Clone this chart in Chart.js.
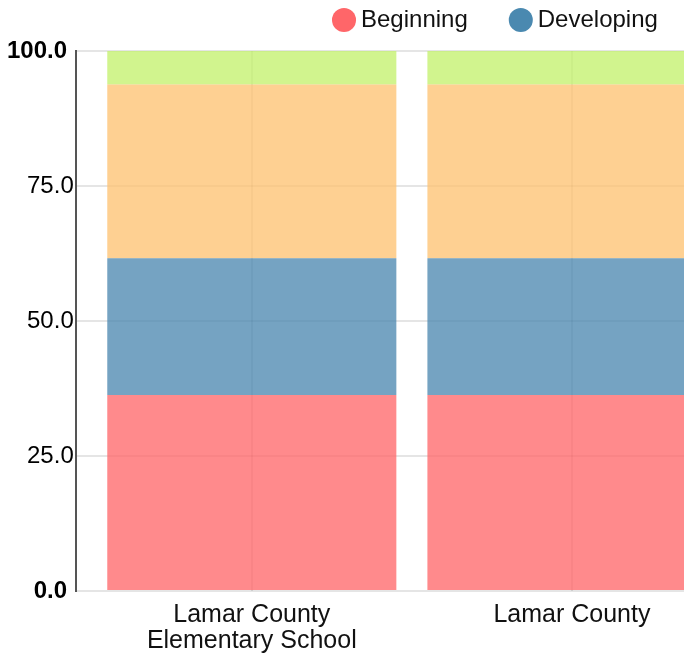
<!DOCTYPE html>
<html>
<head>
<meta charset="utf-8">
<script src="https://cdn.jsdelivr.net/npm/chart.js@4/dist/chart.umd.min.js"></script>
<style>
  html, body { margin: 0; padding: 0; background: #ffffff; overflow: hidden; }
  #wrap { width: 684px; height: 658px; }
</style>
</head>
<body>
<div id="wrap"><canvas id="c" width="684" height="658"></canvas></div>
<script>
// ---- data ----
const categories = [["Lamar County", "Elementary School"], ["Lamar County"]];
const seriesNames = ["Beginning", "Developing", "Proficient", "Distinguished"];
const beginning = [36.3, 36.3];
const developing = [25.3, 25.3];
const proficient = [32.2, 32.2];
const distinguished = [6.2, 6.2];
const yTicks = [0, 25, 50, 75, 100];

// ---- styles ----
const barColors = ["rgba(255,99,102,0.75)", "rgba(71,132,174,0.75)", "rgba(254,192,109,0.75)", "rgba(194,240,104,0.75)"];
const legendColors = ["#ff6669", "#4a89b0", "#fec06d", "#c2f068"];
const legendSuffix = ["      ", "  \u2009", "", ""];
const FONT = "'Liberation Sans', Arial, sans-serif";

const seriesValues = [beginning, developing, proficient, distinguished];
const datasets = seriesNames.map((name, i) => ({
  label: name,
  data: seriesValues[i].map((v, j) => ({ x: j, y: v })),
  backgroundColor: barColors[i],
  borderWidth: 0,
  categoryPercentage: 0.903,
  barPercentage: 1.0
}));

const legendGap = {
  id: 'legendGap',
  beforeLayout(chart) {
    const l = chart.legend;
    if (l && !l._gapPatched) {
      const fit = l.fit;
      l.fit = function () { fit.call(this); this.height += 9; };
      l._gapPatched = true;
    }
  }
};

new Chart(document.getElementById('c'), {
  type: 'bar',
  data: { datasets },
  plugins: [legendGap],
  options: {
    responsive: false,
    animation: false,
    devicePixelRatio: 1,
    layout: { padding: { left: 5, right: 0, top: 0, bottom: -7 } },
    plugins: {
      tooltip: { enabled: false },
      legend: {
        display: true,
        position: 'top',
        align: 'end',
        labels: {
          usePointStyle: true,
          pointStyle: 'circle',
          boxWidth: 10,
          boxHeight: 17,
          padding: 8,
          color: '#111',
          font: { size: 24, family: FONT },
          filter: (item) => item.datasetIndex < 2,
          generateLabels: (chart) => {
            const items = Chart.defaults.plugins.legend.labels.generateLabels(chart);
            return items.map((it) => Object.assign(it, {
              text: it.text + legendSuffix[it.datasetIndex],
              fillStyle: legendColors[it.datasetIndex],
              strokeStyle: legendColors[it.datasetIndex],
              lineWidth: 0
            }));
          }
        }
      }
    },
    scales: {
      x: {
        type: 'linear',
        stacked: true,
        offset: false,
        min: -0.55,
        max: 1.35,
        afterBuildTicks: (scale) => { scale.ticks = categories.map((c, i) => ({ value: i })); },
        grid: { color: 'rgba(0,0,0,0.1)', lineWidth: 2, drawTicks: false, offset: false },
        border: { display: false },
        ticks: {
          padding: 11,
          color: '#111',
          maxRotation: 0,
          autoSkip: false,
          font: { size: 25, family: FONT, lineHeight: 1.04 },
          callback: (v) => categories[v]
        }
      },
      y: {
        stacked: true,
        min: 0,
        max: 100,
        afterBuildTicks: (scale) => { scale.ticks = yTicks.map(v => ({ value: v })); },
        grid: { color: 'rgba(0,0,0,0.1)', lineWidth: 2, drawTicks: false },
        border: { display: true, color: '#555', width: 2 },
        ticks: {
          padding: 2,
          color: '#000',
          font: (ctx) => ({
            size: 24,
            family: FONT,
            weight: (ctx.tick && (ctx.tick.value === 0 || ctx.tick.value === 100)) ? 'bold' : 'normal'
          }),
          callback: (v) => v.toFixed(1) + ((v === 0 || v === 100) ? ' ' : '')
        }
      }
    }
  }
});
</script>
</body>
</html>
